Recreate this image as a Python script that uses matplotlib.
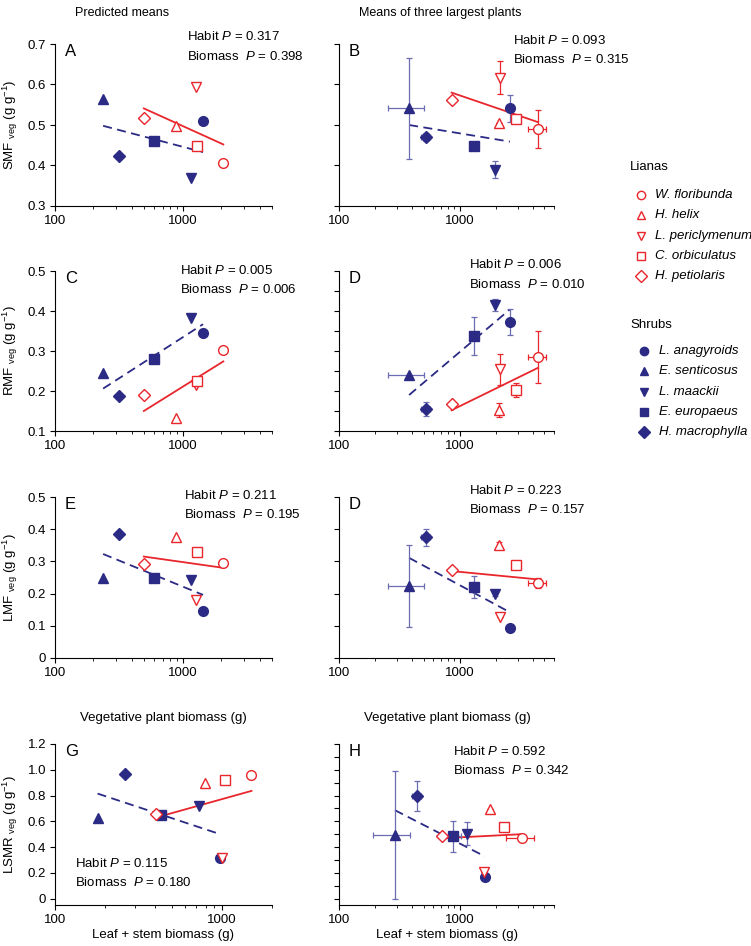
import matplotlib
matplotlib.use("Agg")
import matplotlib.pyplot as plt
from matplotlib.lines import Line2D
from matplotlib import ticker

plt.rcParams['font.family'] = ['Liberation Sans', 'DejaVu Sans']
plt.rcParams['mathtext.fontset'] = 'custom'
plt.rcParams['mathtext.rm'] = 'Liberation Sans'
plt.rcParams['mathtext.it'] = 'Liberation Sans:italic'
plt.rcParams['font.size'] = 9.5

RED = '#e8262b'
NAVY = '#2b2a84'
ERRBLUE = '#6c6cb2'
FS = 9.5

# species order: lianas / shrubs
lianas = ['W. floribunda', 'H. helix', 'L. periclymenum', 'C. orbiculatus', 'H. petiolaris']
shrubs = ['L. anagyroids', 'E. senticosus', 'L. maackii', 'E. europaeus', 'H. macrophylla']
markers = ['o', '^', 'v', 's', 'D']

# ---- predicted means (left column) ----
liana_veg = [2080, 892, 1260, 1285, 496]
shrub_veg = [1442, 238, 1155, 593, 316]
liana_ls = [1507, 789, 1009, 1047, 406]
shrub_ls = [977, 180, 733, 434, 263]

smf_liana = [0.405, 0.498, 0.593, 0.448, 0.517]
smf_shrub = [0.510, 0.564, 0.370, 0.461, 0.424]
rmf_liana = [0.302, 0.132, 0.215, 0.224, 0.189]
rmf_shrub = [0.344, 0.244, 0.382, 0.280, 0.188]
lmf_liana = [0.294, 0.377, 0.180, 0.330, 0.292]
lmf_shrub = [0.147, 0.248, 0.242, 0.250, 0.385]
lsmr_liana = [0.956, 0.901, 0.317, 0.917, 0.655]
lsmr_shrub = [0.317, 0.626, 0.717, 0.645, 0.964]

# fitted lines (y at min and max biomass of each group)
fitA = ([0.541, 0.452], [0.498, 0.433])
fitC = ([0.150, 0.274], [0.206, 0.367])
fitE = ([0.315, 0.280], [0.323, 0.196])
fitG = ([0.630, 0.836], [0.815, 0.500])

# ---- means of three largest plants (right column) ----
liana_veg_big = [4430, 2100, 2140, 2900, 853]
shrub_veg_big = [2590, 380, 1945, 1300, 520]
liana_veg_big_err = [770, 0, 0, 0, 30]
shrub_veg_big_err = [0, 128, 0, 45, 45]
liana_ls_big = [3275, 1770, 1590, 2320, 706]
shrub_ls_big = [1610, 290, 1135, 870, 438]
liana_ls_big_err = [850, 0, 0, 0, 0]
shrub_ls_big_err = [0, 100, 0, 150, 35]

smf_big_liana = [0.489, 0.506, 0.617, 0.514, 0.562]
smf_big_liana_err = [0.047, 0, 0.041, 0, 0.008]
smf_big_shrub = [0.541, 0.541, 0.389, 0.448, 0.471]
smf_big_shrub_err = [0.034, 0.124, 0.021, 0.010, 0.010]
rmf_big_liana = [0.286, 0.153, 0.254, 0.203, 0.168]
rmf_big_liana_err = [0.065, 0.018, 0.038, 0.017, 0]
rmf_big_shrub = [0.372, 0.240, 0.415, 0.337, 0.155]
rmf_big_shrub_err = [0.032, 0, 0.015, 0.047, 0.018]
lmf_big_liana = [0.232, 0.351, 0.126, 0.289, 0.273]
lmf_big_liana_err = [0.015, 0.010, 0, 0, 0]
lmf_big_shrub = [0.092, 0.224, 0.200, 0.220, 0.375]
lmf_big_shrub_err = [0, 0.127, 0.008, 0.035, 0.027]
lsmr_big_liana = [0.470, 0.693, 0.210, 0.555, 0.483]
lsmr_big_liana_err = [0, 0, 0, 0, 0]
lsmr_big_shrub = [0.171, 0.497, 0.504, 0.483, 0.795]
lsmr_big_shrub_err = [0, 0.497, 0.090, 0.120, 0.117]

fitB = ([0.580, 0.507], [0.500, 0.459])
fitD = ([0.152, 0.258], [0.190, 0.404])
fitF = ([0.270, 0.244], [0.311, 0.142])
fitH = ([0.468, 0.500], [0.686, 0.327])

W, H = 751, 946
fig = plt.figure(figsize=(W / 100, H / 100), dpi=100)


def px_axes(x0, y0, x1, y1):
    return fig.add_axes([x0 / W, 1 - y1 / H, (x1 - x0) / W, (y1 - y0) / H])


def style(ax, xlim, ylim, yticks, labels=True):
    ax.set_xscale('log')
    ax.set_xlim(*xlim)
    ax.set_ylim(*ylim)
    ax.xaxis.set_major_locator(ticker.FixedLocator([100, 1000]))
    ax.xaxis.set_major_formatter(ticker.FuncFormatter(lambda v, p: '%d' % v))
    ax.xaxis.set_minor_locator(ticker.LogLocator(subs=range(2, 10)))
    ax.xaxis.set_minor_formatter(ticker.NullFormatter())
    ax.set_yticks(yticks)
    ax.yaxis.set_major_formatter(ticker.FuncFormatter(lambda v, p: '0' if abs(v) < 1e-9 else '%.1f' % v))
    for s in ['top', 'right']:
        ax.spines[s].set_visible(False)
    for s in ['left', 'bottom']:
        ax.spines[s].set_linewidth(0.8)
    ax.tick_params(which='major', length=3.5, width=0.8, labelsize=FS, pad=3)
    ax.tick_params(which='minor', length=2, width=0.6)
    if not labels:
        ax.tick_params(labelleft=False)


def draw(ax, lx, ly, sx, sy, fit, lxe=None, lye=None, sxe=None, sye=None):
    ax.plot([min(lx), max(lx)], fit[0], color=RED, lw=1.3, zorder=2)
    ax.plot([min(sx), max(sx)], fit[1], color=NAVY, lw=1.3, ls=(0, (5, 3)), zorder=2)
    for i, m in enumerate(markers):
        ms = 6 if m == 'D' else 7
        if lxe is not None or lye is not None:
            ax.errorbar(lx[i], ly[i], xerr=lxe[i] if lxe else None, yerr=lye[i] if lye else None,
                        fmt='none', ecolor=RED, elinewidth=0.9, capsize=2.5, capthick=0.9, zorder=2)
        if sxe is not None or sye is not None:
            ax.errorbar(sx[i], sy[i], xerr=sxe[i] if sxe else None, yerr=sye[i] if sye else None,
                        fmt='none', ecolor=ERRBLUE, elinewidth=0.9, capsize=2.5, capthick=0.9, zorder=2)
        ax.plot(lx[i], ly[i], marker=m, ms=ms, mfc='white', mec=RED, mew=1.0, ls='none', zorder=3)
        ax.plot(sx[i], sy[i], marker=m, ms=ms, mfc=NAVY, mec=NAVY, ls='none', zorder=3)


def ftext(x, y, s, **kw):
    fig.text(x / W, 1 - y / H, s, **kw)


LX, RX = (55, 272), (339, 554)
rows = [(44, 206), (271, 431), (497, 658), (744, 905)]
YLAB_X = (20 - LX[0]) / (LX[1] - LX[0])

axA = px_axes(LX[0], rows[0][0], LX[1], rows[0][1])
style(axA, (100, 5000), (0.3, 0.7), [0.3, 0.4, 0.5, 0.6, 0.7])
draw(axA, liana_veg, smf_liana, shrub_veg, smf_shrub, fitA)
axA.set_ylabel(r'SMF $_{\mathrm{veg}}$ (g g$^{-1}$)', fontsize=FS)

axB = px_axes(RX[0], rows[0][0], RX[1], rows[0][1])
style(axB, (100, 6000), (0.3, 0.7), [0.3, 0.4, 0.5, 0.6, 0.7], labels=False)
draw(axB, liana_veg_big, smf_big_liana, shrub_veg_big, smf_big_shrub, fitB,
     liana_veg_big_err, smf_big_liana_err, shrub_veg_big_err, smf_big_shrub_err)

axC = px_axes(LX[0], rows[1][0], LX[1], rows[1][1])
style(axC, (100, 5000), (0.1, 0.5), [0.1, 0.2, 0.3, 0.4, 0.5])
draw(axC, liana_veg, rmf_liana, shrub_veg, rmf_shrub, fitC)
axC.set_ylabel(r'RMF $_{\mathrm{veg}}$ (g g$^{-1}$)', fontsize=FS)

axD = px_axes(RX[0], rows[1][0], RX[1], rows[1][1])
style(axD, (100, 6000), (0.1, 0.5), [0.1, 0.15, 0.2, 0.25, 0.3, 0.35, 0.4, 0.45, 0.5], labels=False)
draw(axD, liana_veg_big, rmf_big_liana, shrub_veg_big, rmf_big_shrub, fitD,
     liana_veg_big_err, rmf_big_liana_err, shrub_veg_big_err, rmf_big_shrub_err)

axE = px_axes(LX[0], rows[2][0], LX[1], rows[2][1])
style(axE, (100, 5000), (0, 0.5), [0, 0.1, 0.2, 0.3, 0.4, 0.5])
draw(axE, liana_veg, lmf_liana, shrub_veg, lmf_shrub, fitE)
axE.set_ylabel(r'LMF $_{\mathrm{veg}}$ (g g$^{-1}$)', fontsize=FS)

axF = px_axes(RX[0], rows[2][0], RX[1], rows[2][1])
style(axF, (100, 6000), (0, 0.5), [0, 0.1, 0.2, 0.3, 0.4, 0.5], labels=False)
draw(axF, liana_veg_big, lmf_big_liana, shrub_veg_big, lmf_big_shrub, fitF,
     liana_veg_big_err, lmf_big_liana_err, shrub_veg_big_err, lmf_big_shrub_err)

axG = px_axes(LX[0], rows[3][0], LX[1], rows[3][1])
style(axG, (100, 2000), (-0.05, 1.2), [0, 0.2, 0.4, 0.6, 0.8, 1.0, 1.2])
draw(axG, liana_ls, lsmr_liana, shrub_ls, lsmr_shrub, fitG)
axG.set_ylabel(r'LSMR $_{\mathrm{veg}}$ (g g$^{-1}$)', fontsize=FS)

axH = px_axes(RX[0], rows[3][0], RX[1], rows[3][1])
style(axH, (100, 6000), (-0.05, 1.2), [round(0.1 * k, 1) for k in range(13)], labels=False)
draw(axH, liana_ls_big, lsmr_big_liana, shrub_ls_big, lsmr_big_shrub, fitH,
     liana_ls_big_err, lsmr_big_liana_err, shrub_ls_big_err, lsmr_big_shrub_err)

for ax in [axA, axC, axE, axG]:
    ax.yaxis.set_label_coords(YLAB_X, 0.5)

# panel letters
for ax, letter in zip([axA, axB, axC, axD, axE, axF, axG, axH], 'ABCDEDGH'):
    ax.text(0.045, 1.0, letter, transform=ax.transAxes, fontsize=12, va='top', ha='left')

# P-value annotations (x, y of first line in pixels)
ptexts = [
    (187, 37, '0.317', '0.398'),
    (513, 40, '0.093', '0.315'),
    (180, 270, '0.005', '0.006'),
    (469, 265, '0.006', '0.010'),
    (184, 495, '0.211', '0.195'),
    (469, 490, '0.223', '0.157'),
    (75, 863, '0.115', '0.180'),
    (453, 751, '0.592', '0.342'),
]
for x, y, ph, pb in ptexts:
    ftext(x, y, r'Habit $P$ = ' + ph, va='center', ha='left', fontsize=FS)
    ftext(x, y + 19.5, r'Biomass  $P$ = ' + pb, va='center', ha='left', fontsize=FS)

ftext(122, 13, 'Predicted means', ha='center', va='center', fontsize=9)
ftext(440, 13, 'Means of three largest plants', ha='center', va='center', fontsize=9)
for cx in (163, 447):
    ftext(cx, 718, 'Vegetative plant biomass (g)', ha='center', va='center', fontsize=FS)
    ftext(cx, 935, 'Leaf + stem biomass (g)', ha='center', va='center', fontsize=FS)


# legend, drawn entry by entry
def legend_block(title, names, face, edge, x_title, y_title, x_mark, x_text, y0, step=20.3):
    ftext(x_title, y_title, title, ha='left', va='center', fontsize=FS)
    for i, (name, m) in enumerate(zip(names, markers)):
        y = y0 + i * step
        fig.add_artist(Line2D([x_mark / W], [1 - y / H], transform=fig.transFigure,
                              marker=m, ls='none', ms=6.5 if m == 'D' else 6,
                              mfc=face, mec=edge, mew=1.0))
        ftext(x_text, y, name, ha='left', va='center', fontsize=FS, style='italic')


legend_block('Lianas', lianas, 'white', RED, 630, 167, 641, 655, 195)
legend_block('Shrubs', shrubs, NAVY, NAVY, 630, 325, 644, 659, 351)

fig.savefig('out.png', dpi=100)
